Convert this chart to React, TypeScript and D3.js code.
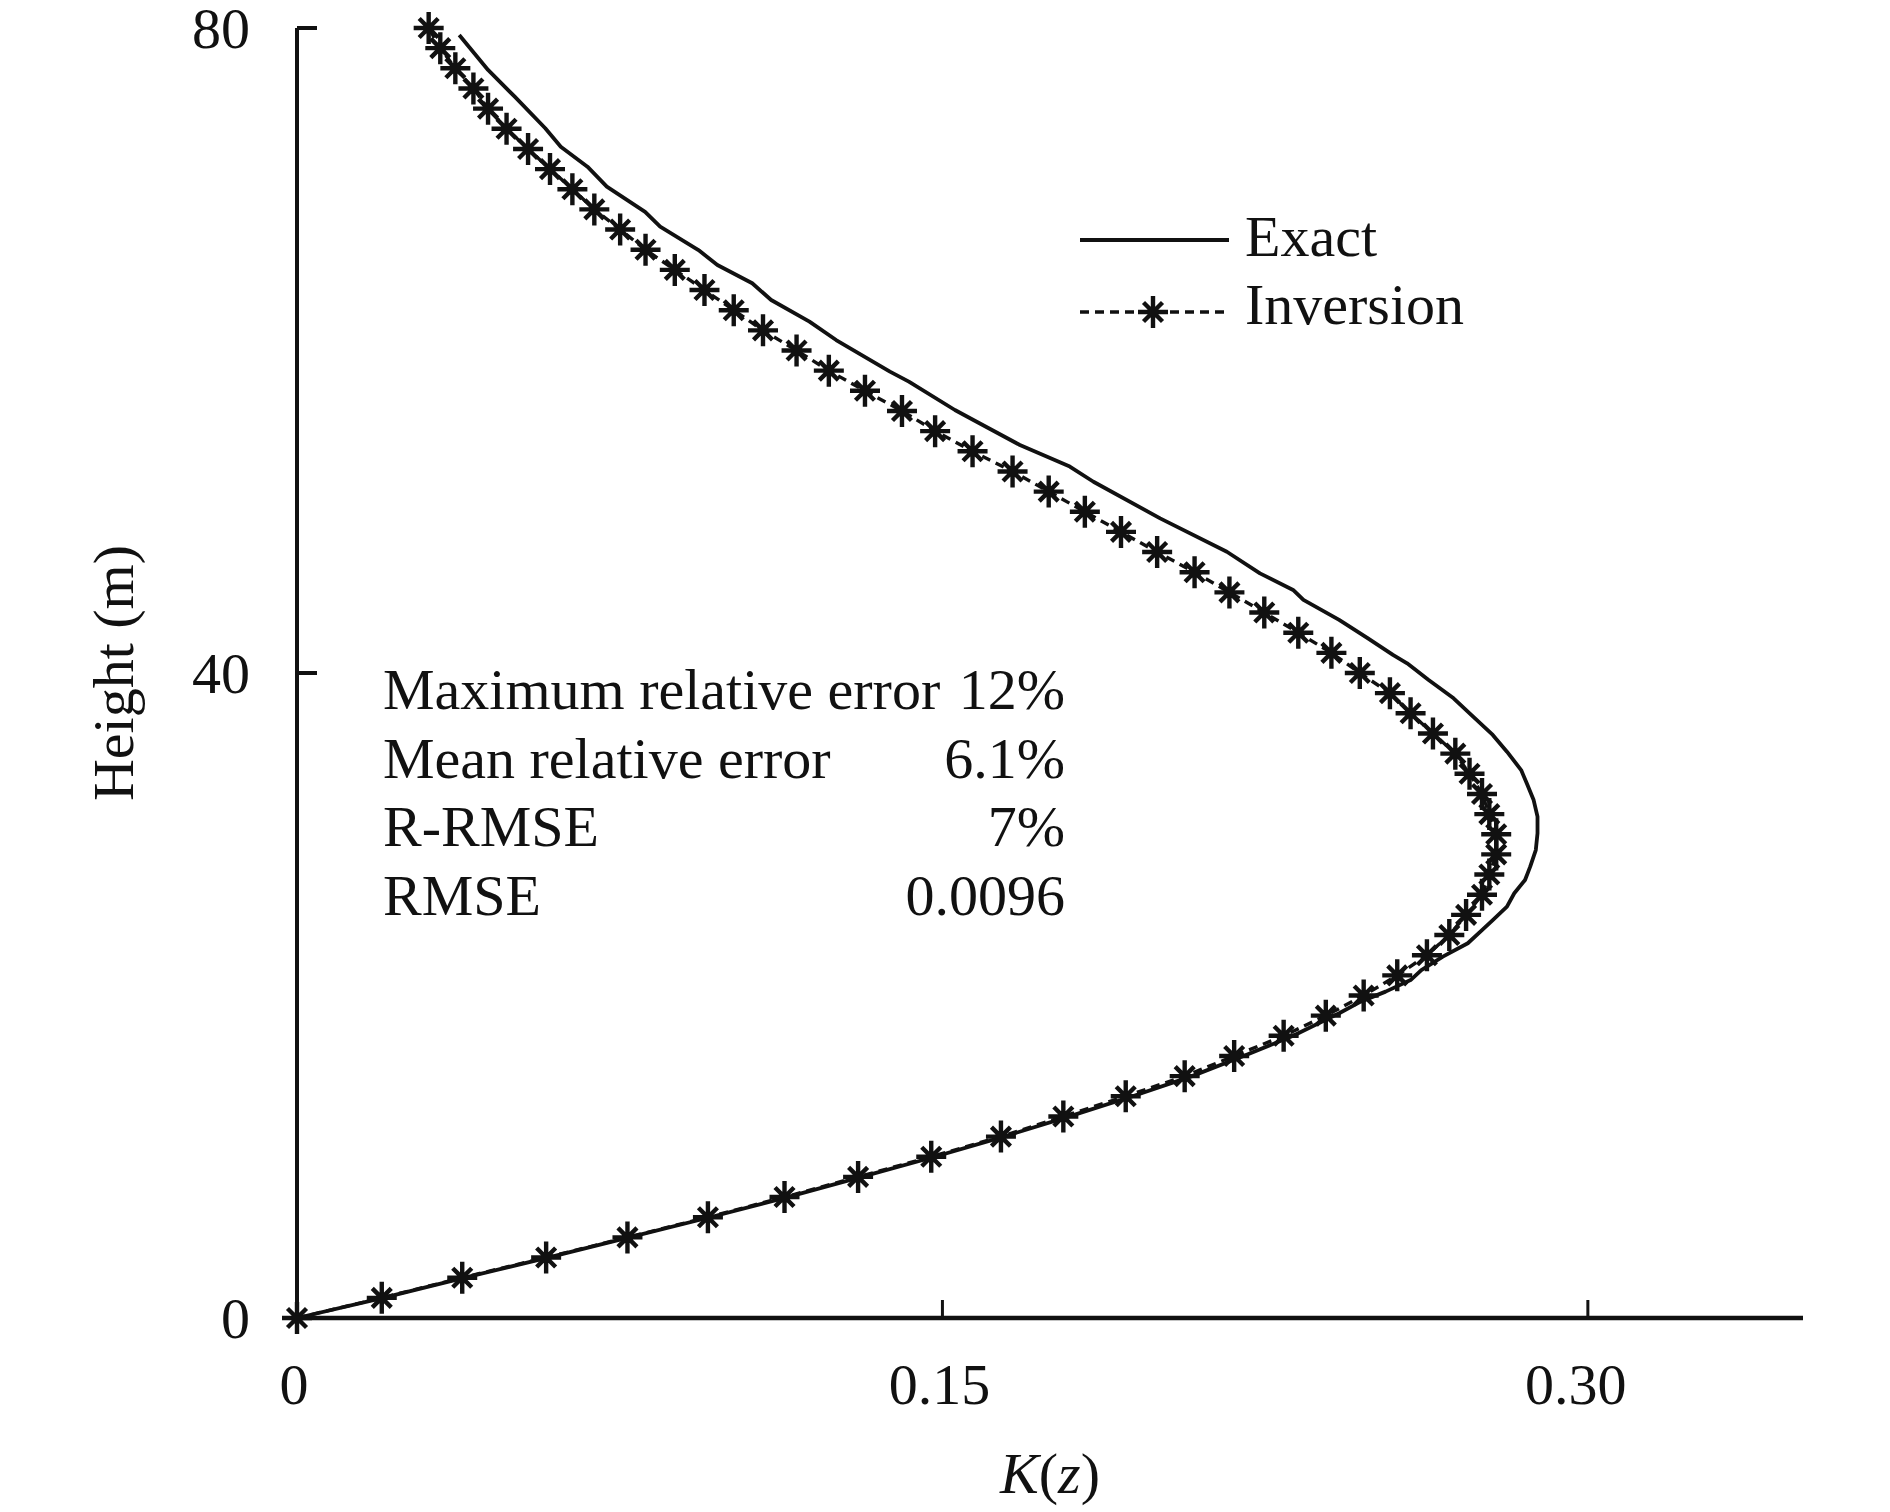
import React from "react";
import * as d3 from "d3";

// Inversion profile (dashed line with asterisk markers)
const zInversion = [
  0, 1.25, 2.5, 3.75, 5, 6.25, 7.5, 8.75, 10, 11.25,
  12.5, 13.75, 15, 16.25, 17.5, 18.75, 20, 21.25, 22.5, 23.75,
  25, 26.25, 27.5, 28.75, 30, 31.25, 32.5, 33.75, 35, 36.25,
  37.5, 38.75, 40, 41.25, 42.5, 43.75, 45, 46.25, 47.5, 48.75,
  50, 51.25, 52.5, 53.75, 55, 56.25, 57.5, 58.75, 60, 61.25,
  62.5, 63.75, 65, 66.25, 67.5, 68.75, 70, 71.25, 72.5, 73.75,
  75, 76.25, 77.5, 78.75, 80,
];
const kInversion = [
  0, 0.0197, 0.0384, 0.0579, 0.0768, 0.0955, 0.1133, 0.1304, 0.1474, 0.1636,
  0.1781, 0.1926, 0.2063, 0.2178, 0.2293, 0.2391, 0.2479, 0.2557, 0.2626, 0.2678,
  0.2717, 0.2754, 0.2771, 0.2787, 0.2787, 0.2771, 0.2754, 0.2725, 0.2692, 0.264,
  0.2588, 0.254, 0.247, 0.2404, 0.2327, 0.2248, 0.2167, 0.2086, 0.1999, 0.1915,
  0.1831, 0.1747, 0.1663, 0.157, 0.1483, 0.1406, 0.132, 0.1236, 0.1161, 0.1083,
  0.1015, 0.0947, 0.0878, 0.081, 0.0751, 0.0691, 0.064, 0.0588, 0.0537, 0.0487,
  0.0444, 0.041, 0.0368, 0.0333, 0.0306,
];

// Exact profile (solid line)
const zExact = [
  0, 1.25, 2.5, 3.75, 5, 6.25, 7.5, 8.75, 10, 11.25,
  12.5, 13.75, 15, 16.25, 17.5, 18.9, 19.62, 20.24, 20.96, 21.58,
  22.41, 23.24, 24.06, 24.68, 25.51, 26.34, 27.16, 27.99, 29.02, 30.06,
  31.09, 32.12, 33.16, 33.98, 35.12, 36.16, 37.4, 38.43, 39.57, 40.6,
  41.12, 42.15, 43.29, 44.53, 45.15, 46.18, 47.52, 49.59, 51.86, 52.8,
  54.14, 55.69, 56.31, 58.07, 58.69, 60.65, 61.79, 63.13, 64.17, 65.3,
  66.23, 67.68, 68.6, 70.16, 71.4, 72.64, 73.78, 75.74, 77.4, 79.57,
];
const kExact = [
  0, 0.02, 0.039, 0.0583, 0.0772, 0.096, 0.114, 0.1312, 0.1482, 0.1643,
  0.1795, 0.1942, 0.208, 0.22, 0.2315, 0.2422, 0.2472, 0.253, 0.2588, 0.2613,
  0.2663, 0.2721, 0.2754, 0.2779, 0.2812, 0.2829, 0.2854, 0.2866, 0.2879, 0.2883,
  0.2883, 0.2874, 0.2858, 0.2845, 0.2812, 0.2779, 0.2729, 0.2688, 0.263, 0.258,
  0.2547, 0.2489, 0.2422, 0.2339, 0.2315, 0.2238, 0.2161, 0.2006, 0.1851, 0.1796,
  0.168, 0.1572, 0.1529, 0.1422, 0.1378, 0.1253, 0.1191, 0.1102, 0.1058, 0.0977,
  0.0933, 0.0844, 0.0809, 0.072, 0.0675, 0.0613, 0.0577, 0.0506, 0.0444, 0.0377,
];

const xTicks = [0, 0.15, 0.3];
const xTickLabels = ["0", "0.15", "0.30"];
const yTicks = [0, 40, 80];
const yTickLabels = ["0", "40", "80"];
const seriesNames = ["Exact", "Inversion"];
const statLabels = ["Maximum relative error", "Mean relative error", "R-RMSE", "RMSE"];
const statValues = ["12%", "6.1%", "7%", "0.0096"];

const W = 1890;
const H = 1512;
const FONT = "'Liberation Serif', 'Times New Roman', serif";
const FS = 58;

const x = d3.scaleLinear().domain([0, 0.35]).range([297, 1803]);
const y = d3.scaleLinear().domain([0, 80]).range([1318, 28]);

const STAR = "M0,-16V16M-15,0H15M-9.5,-9.5L9.5,9.5M-9.5,9.5L9.5,-9.5";

export default function App() {
  const exactPts: [number, number][] = zExact.map((z, i) => [kExact[i], z]);
  const invPts: [number, number][] = zInversion.map((z, i) => [kInversion[i], z]);
  const line = d3
    .line<[number, number]>()
    .x((d) => x(d[0]))
    .y((d) => y(d[1]));

  const [x0, x1] = x.range();
  const [yb, yt] = y.range();

  return (
    <div style={{ position: "fixed", left: 0, top: 0, width: W, height: H, background: "#fff" }}>
      <svg width={W} height={H} viewBox={`0 0 ${W} ${H}`} style={{ display: "block" }}>
        <rect x={0} y={0} width={W} height={H} fill="#fff" />

        {/* data */}
        <path d={line(exactPts) || ""} fill="none" stroke="#111" strokeWidth={3.8} strokeLinejoin="round" />
        <path
          d={line(invPts) || ""}
          fill="none"
          stroke="#111"
          strokeWidth={3.4}
          strokeDasharray="9 6"
        />
        {invPts.map((d, i) => (
          <path
            key={i}
            d={STAR}
            transform={`translate(${x(d[0])},${y(d[1])})`}
            fill="none"
            stroke="#111"
            strokeWidth={4.4}
          />
        ))}

        {/* axes */}
        <line x1={x0} x2={x0} y1={yt} y2={yb} stroke="#111" strokeWidth={4} />
        <line x1={x0 - 2} x2={x1} y1={yb} y2={yb} stroke="#111" strokeWidth={4.5} />
        {yTicks.map((t, i) => (
          <g key={"y" + i}>
            {t !== 0 && (
              <line x1={x0} x2={x0 + 20} y1={y(t)} y2={y(t)} stroke="#111" strokeWidth={4} />
            )}
            <text
              x={250}
              y={y(t) + 20}
              textAnchor="end"
              fontFamily={FONT}
              fontSize={FS}
              fill="#111"
            >
              {yTickLabels[i]}
            </text>
          </g>
        ))}
        {xTicks.map((t, i) => (
          <g key={"x" + i}>
            {t !== 0 && (
              <line x1={x(t)} x2={x(t)} y1={yb} y2={yb - 18} stroke="#111" strokeWidth={3} />
            )}
            <text
              x={x(t) + (i === 2 ? -12 : -3)}
              y={1404}
              textAnchor="middle"
              fontFamily={FONT}
              fontSize={FS}
              fill="#111"
            >
              {xTickLabels[i]}
            </text>
          </g>
        ))}

        {/* axis titles */}
        <text
          x={(x0 + x1) / 2}
          y={1493}
          textAnchor="middle"
          fontFamily={FONT}
          fontSize={FS}
          fill="#111"
        >
          <tspan fontStyle="italic">K</tspan>
          <tspan>(</tspan>
          <tspan fontStyle="italic">z</tspan>
          <tspan>)</tspan>
        </text>
        <text
          transform={`translate(133,${y(40)}) rotate(-90)`}
          textAnchor="middle"
          fontFamily={FONT}
          fontSize={FS}
          fill="#111"
        >
          Height (m)
        </text>

        {/* legend */}
        <line x1={1080} x2={1229} y1={240} y2={240} stroke="#111" strokeWidth={3.8} />
        <text x={1245} y={256} fontFamily={FONT} fontSize={FS} fill="#111">
          {seriesNames[0]}
        </text>
        <line x1={1080} x2={1230} y1={312} y2={312} stroke="#111" strokeWidth={3.6} strokeDasharray="9 6" />
        <path d={STAR} transform="translate(1153,312)" fill="none" stroke="#111" strokeWidth={4.4} />
        <text x={1245} y={324} fontFamily={FONT} fontSize={FS} fill="#111">
          {seriesNames[1]}
        </text>

        {/* statistics */}
        {statLabels.map((s, i) => (
          <g key={"s" + i}>
            <text x={383} y={709 + i * 68.7} fontFamily={FONT} fontSize={FS} fill="#111">
              {s}
            </text>
            <text x={1065} y={709 + i * 68.7} textAnchor="end" fontFamily={FONT} fontSize={FS} fill="#111">
              {statValues[i]}
            </text>
          </g>
        ))}
      </svg>
    </div>
  );
}
